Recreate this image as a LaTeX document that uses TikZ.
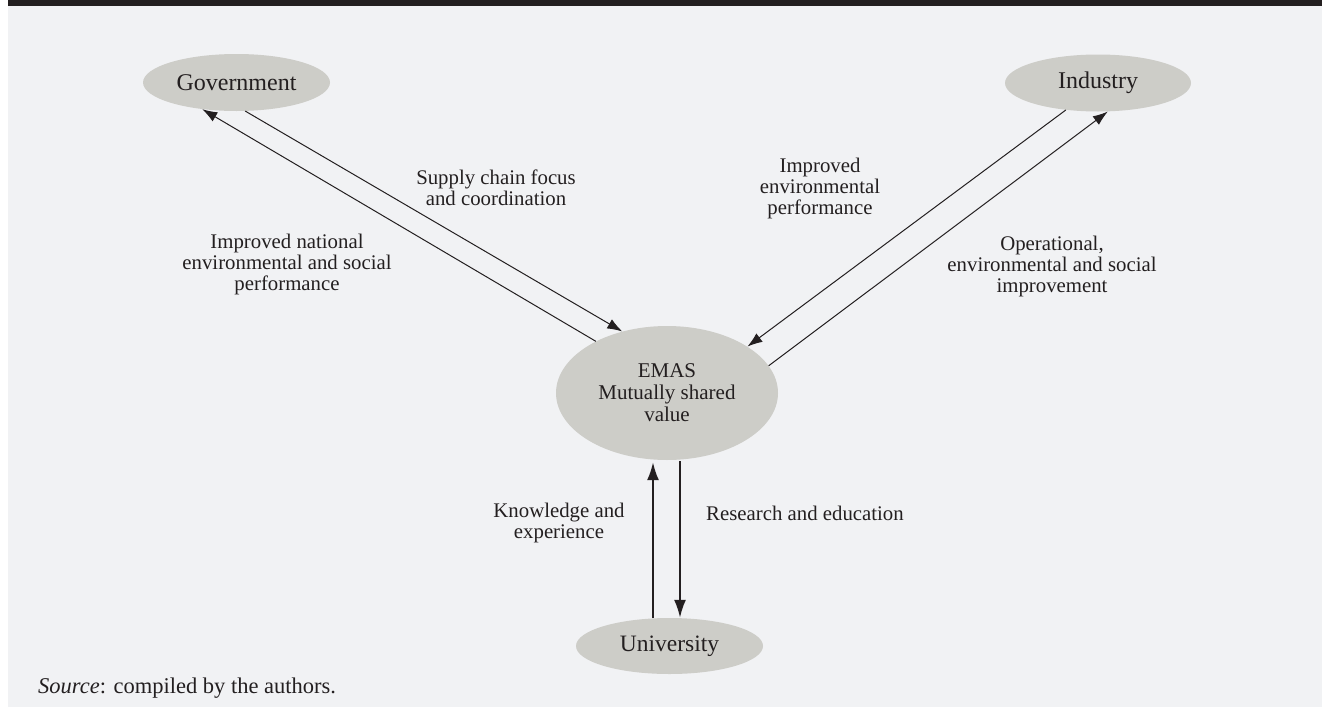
\documentclass[tikz,border=0pt]{standalone}
\usepackage{fontspec}
\setmainfont{Liberation Serif}
\usetikzlibrary{arrows.meta,shapes.geometric,calc}
\definecolor{bgc}{HTML}{F1F2F4}
\definecolor{barc}{HTML}{231F20}
\definecolor{ellc}{HTML}{CDCDC8}
\definecolor{txtc}{HTML}{231F20}
\tikzset{
  actor/.style={ellipse,fill=ellc,draw=none,inner sep=0pt,text=txtc,font=\fontsize{24}{25}\selectfont},
  lbl/.style={text=txtc,align=center,inner sep=0pt,font=\fontsize{20.8}{21}\selectfont},
  thinarrow/.style={draw=txtc,line width=1pt,-{Latex[length=15pt,width=10.5pt]}},
  thickarrow/.style={draw=txtc,line width=2pt,-{Latex[length=18pt,width=12pt]}}
}
\begin{document}
\begin{tikzpicture}[x=1pt,y=-1pt]
\path[use as bounding box,fill=white] (0,0) rectangle (1322,707);
\fill[bgc] (8,6) rectangle (1322,707);
\fill[barc] (8,0) rectangle (1322,6);

\node[actor,minimum width=187pt,minimum height=57pt] (gov) at (236.5,82.5) {Government};
\node[actor,minimum width=186pt,minimum height=57pt] (ind) at (1098,83) {Industry};
\node[actor,minimum width=222pt,minimum height=134pt,align=center,font=\fontsize{21}{22}\selectfont] (emas) at (667,393) {EMAS\\Mutually shared\\value};
\node[actor,minimum width=187pt,minimum height=56pt,font=\fontsize{23.5}{25}\selectfont] (univ) at (669.5,646) {University};

% Government <-> EMAS
\draw[thinarrow] (gov.-73.4) -- (emas.126.4);
\draw[thinarrow] (emas.144.9) -- (gov.-142.7);
% Industry <-> EMAS
\draw[thinarrow] (ind.-140.4) -- (emas.30.1);
\draw[thinarrow] (emas.15) -- (ind.-71.6);
% University <-> EMAS
\draw[thickarrow] ($(univ.north)+(-16.5,0)$) -- ($(emas.south)+(-14,2)$);
\draw[thickarrow] ($(emas.south)+(13,1)$) -- ($(univ.north)+(10.5,0)$);

\node[lbl] (l1) at (496,188) {Supply chain focus\\and coordination};
\node[lbl] (l2) at (287,264) {Improved national\\environmental and social\\performance};
\node[lbl] (l3) at (820,188) {Improved\\environmental\\performance};
\node[lbl] (l4) at (1052,266) {Operational,\\environmental and social\\improvement};
\node[lbl] (l5) at (559,523) {Knowledge and\\experience};
\node[lbl,anchor=west] (l6) at (706,513) {Research and education};
\node[text=txtc,inner sep=0pt,anchor=base west,font=\fontsize{22.5}{24}\selectfont] (src) at (38,693) {\textit{Source}: compiled by the authors.};
\end{tikzpicture}
\end{document}
